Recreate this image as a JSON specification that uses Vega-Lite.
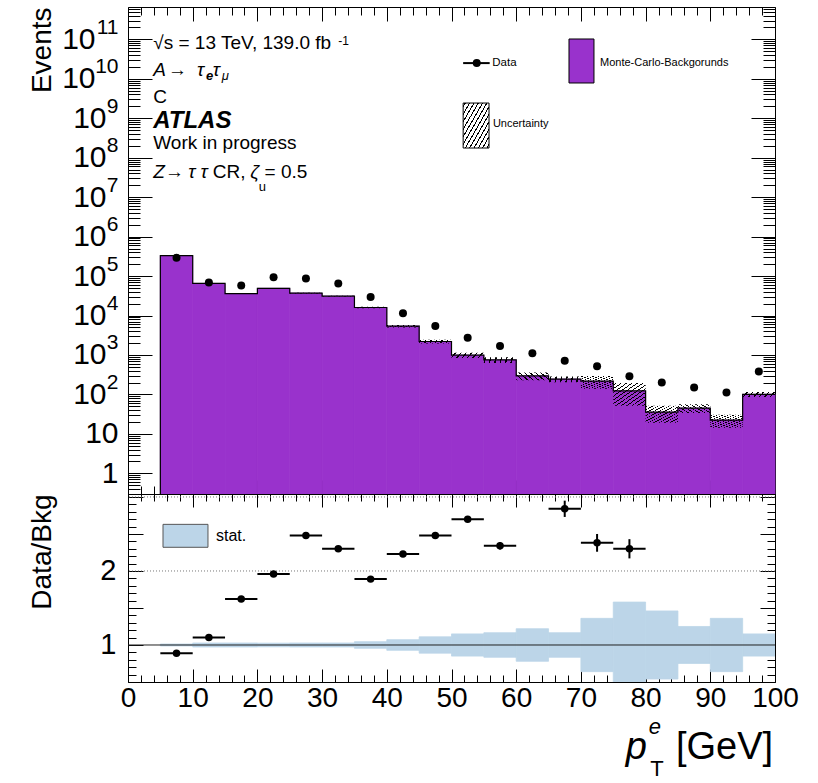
{
"$schema": "https://vega.github.io/schema/vega-lite/v6.json",
"background": "white",
"padding": {"left": 27, "top": 6, "right": 5, "bottom": 0},
"spacing": 0,
"bounds": "flush",
"config": {"font": "Liberation Sans", "view": {"stroke": null}, "axis": {"minExtent": 0, "zindex": 1, "domainColor": "black", "domainWidth": 1, "tickColor": "black", "tickWidth": 1, "grid": false, "labelColor": "black", "titleColor": "black", "labelFont": "Liberation Sans", "titleFont": "Liberation Sans"}},
"datasets": {
"bins": [
{"lo":5,"hi":10,"c":7.5,"mc":330000,"data":290000,"ulo":325700,"uhi":334300,"slo":0.987,"shi":1.013},
{"lo":10,"hi":15,"c":12.5,"mc":65000,"data":69000,"ulo":63245,"uhi":66755,"slo":0.973,"shi":1.027},
{"lo":15,"hi":20,"c":17.5,"mc":36000,"data":58000,"ulo":35028,"uhi":36972,"slo":0.973,"shi":1.027},
{"lo":20,"hi":25,"c":22.5,"mc":49000,"data":94000,"ulo":47775,"uhi":50225,"slo":0.975,"shi":1.025},
{"lo":25,"hi":30,"c":27.5,"mc":37000,"data":87000,"ulo":36001,"uhi":37999,"slo":0.973,"shi":1.027},
{"lo":30,"hi":35,"c":32.5,"mc":31000,"data":65000,"ulo":30163,"uhi":31837,"slo":0.973,"shi":1.027},
{"lo":35,"hi":40,"c":37.5,"mc":16000,"data":29500,"ulo":15280,"uhi":16720,"slo":0.955,"shi":1.045},
{"lo":40,"hi":45,"c":42.5,"mc":5400,"data":11500,"ulo":5011,"uhi":5789,"slo":0.928,"shi":1.072},
{"lo":45,"hi":50,"c":47.5,"mc":2200,"data":5400,"ulo":1958,"uhi":2442,"slo":0.89,"shi":1.11},
{"lo":50,"hi":55,"c":52.5,"mc":990,"data":2750,"ulo":842,"uhi":1139,"slo":0.85,"shi":1.15},
{"lo":55,"hi":60,"c":57.5,"mc":750,"data":1700,"ulo":626,"uhi":875,"slo":0.834,"shi":1.166},
{"lo":60,"hi":65,"c":62.5,"mc":295,"data":1100,"ulo":230,"uhi":360,"slo":0.78,"shi":1.22},
{"lo":65,"hi":70,"c":67.5,"mc":245,"data":710,"ulo":204,"uhi":286,"slo":0.834,"shi":1.166},
{"lo":70,"hi":75,"c":72.5,"mc":217,"data":519,"ulo":139,"uhi":295,"slo":0.64,"shi":1.36},
{"lo":75,"hi":80,"c":77.5,"mc":123,"data":290,"ulo":52,"uhi":194,"slo":0.42,"shi":1.58},
{"lo":80,"hi":85,"c":82.5,"mc":35.6,"data":200,"ulo":19.2,"uhi":52,"slo":0.54,"shi":1.46},
{"lo":85,"hi":90,"c":87.5,"mc":45,"data":150,"ulo":33.8,"uhi":56.3,"slo":0.75,"shi":1.25},
{"lo":90,"hi":95,"c":92.5,"mc":22.4,"data":112,"ulo":14.3,"uhi":30.5,"slo":0.64,"shi":1.36},
{"lo":95,"hi":100,"c":97.5,"mc":101,"data":380,"ulo":85.9,"uhi":116,"slo":0.85,"shi":1.15}
],
"edges": [
{"i":0,"x":5,"y":0.3},{"i":1,"x":5,"y":330000},{"i":2,"x":10,"y":65000},{"i":3,"x":15,"y":36000},{"i":4,"x":20,"y":49000},{"i":5,"x":25,"y":37000},{"i":6,"x":30,"y":31000},{"i":7,"x":35,"y":16000},{"i":8,"x":40,"y":5400},{"i":9,"x":45,"y":2200},{"i":10,"x":50,"y":990},{"i":11,"x":55,"y":750},{"i":12,"x":60,"y":295},{"i":13,"x":65,"y":245},{"i":14,"x":70,"y":217},{"i":15,"x":75,"y":123},{"i":16,"x":80,"y":35.6},{"i":17,"x":85,"y":45},{"i":18,"x":90,"y":22.4},{"i":19,"x":95,"y":101},{"i":20,"x":100,"y":101}
],
"ratio": [
{"c":7.5,"lo":5,"hi":10,"r":0.89,"rlo":0.885,"rhi":0.895},
{"c":12.5,"lo":10,"hi":15,"r":1.10,"rlo":1.09,"rhi":1.11},
{"c":17.5,"lo":15,"hi":20,"r":1.62,"rlo":1.61,"rhi":1.63},
{"c":22.5,"lo":20,"hi":25,"r":1.96,"rlo":1.95,"rhi":1.97},
{"c":27.5,"lo":25,"hi":30,"r":2.48,"rlo":2.465,"rhi":2.495},
{"c":32.5,"lo":30,"hi":35,"r":2.30,"rlo":2.285,"rhi":2.315},
{"c":37.5,"lo":35,"hi":40,"r":1.89,"rlo":1.87,"rhi":1.91},
{"c":42.5,"lo":40,"hi":45,"r":2.23,"rlo":2.205,"rhi":2.255},
{"c":47.5,"lo":45,"hi":50,"r":2.48,"rlo":2.45,"rhi":2.51},
{"c":52.5,"lo":50,"hi":55,"r":2.70,"rlo":2.66,"rhi":2.74},
{"c":57.5,"lo":55,"hi":60,"r":2.34,"rlo":2.29,"rhi":2.39},
{"c":67.5,"lo":65,"hi":70,"r":2.84,"rlo":2.73,"rhi":2.95},
{"c":72.5,"lo":70,"hi":75,"r":2.38,"rlo":2.26,"rhi":2.50},
{"c":77.5,"lo":75,"hi":80,"r":2.30,"rlo":2.17,"rhi":2.43}
]
},
"vconcat": [
{
"width": 647, "height": 487,
"data": {"name": "bins"},
"resolve": {"axis": {"x": "independent", "y": "independent"}},
"layer": [
{"mark": {"type": "rect", "fill": "#9932cc", "stroke": "#9932cc", "strokeWidth": 0.8},
 "encoding": {
  "x": {"field": "lo", "type": "quantitative", "scale": {"domain": [0, 100], "nice": false, "zero": false},
        "axis": {"orient": "bottom", "values": [0,2,4,6,8,10,12,14,16,18,20,22,24,26,28,30,32,34,36,38,40,42,44,46,48,50,52,54,56,58,60,62,64,66,68,70,72,74,76,78,80,82,84,86,88,90,92,94,96,98,100], "labels": false, "title": null, "tickSize": {"condition": {"test": "datum.value % 10 == 0", "value": -14}, "value": -8}}},
  "x2": {"field": "hi"},
  "y": {"field": "mc", "type": "quantitative", "scale": {"type": "log", "domain": [0.3, 6.6e11], "nice": false},
        "axis": {"orient": "left", "values": [1,10,100,1000,1e4,1e5,1e6,1e7,1e8,1e9,1e10,1e11], "ticks": false, "domain": false,
                 "labelExpr": "datum.value < 5 ? '1' : '10'",
                 "labelOverlap": false, "labelFlush": false, "labelFontSize": 30,
                 "labelPadding": {"condition": [{"test": "datum.value > 5e9", "value": 33}, {"test": "datum.value > 50", "value": 22}], "value": 10},
                 "title": "Events", "titleFontSize": 28, "titleFontWeight": "normal", "titleAnchor": "end", "titleAngle": -90, "titleAlign": "right", "titleBaseline": "alphabetic", "titleX": -78, "titleY": 0}},
  "y2": {"datum": 0.3}
 }},
{"mark": {"type": "rect", "fill": {"gradient": "linear", "x1": 0, "y1": 0, "x2": 1, "y2": 1, "stops": [
 {"offset":0,"color":"rgba(0,0,0,0)"},
 {"offset":0.0307,"color":"rgba(0,0,0,0)"},{"offset":0.0307,"color":"#000"},{"offset":0.0527,"color":"#000"},{"offset":0.0527,"color":"rgba(0,0,0,0)"},
 {"offset":0.114,"color":"rgba(0,0,0,0)"},{"offset":0.114,"color":"#000"},{"offset":0.136,"color":"#000"},{"offset":0.136,"color":"rgba(0,0,0,0)"},
 {"offset":0.1973,"color":"rgba(0,0,0,0)"},{"offset":0.1973,"color":"#000"},{"offset":0.2193,"color":"#000"},{"offset":0.2193,"color":"rgba(0,0,0,0)"},
 {"offset":0.2807,"color":"rgba(0,0,0,0)"},{"offset":0.2807,"color":"#000"},{"offset":0.3027,"color":"#000"},{"offset":0.3027,"color":"rgba(0,0,0,0)"},
 {"offset":0.364,"color":"rgba(0,0,0,0)"},{"offset":0.364,"color":"#000"},{"offset":0.386,"color":"#000"},{"offset":0.386,"color":"rgba(0,0,0,0)"},
 {"offset":0.4473,"color":"rgba(0,0,0,0)"},{"offset":0.4473,"color":"#000"},{"offset":0.4693,"color":"#000"},{"offset":0.4693,"color":"rgba(0,0,0,0)"},
 {"offset":0.5307,"color":"rgba(0,0,0,0)"},{"offset":0.5307,"color":"#000"},{"offset":0.5527,"color":"#000"},{"offset":0.5527,"color":"rgba(0,0,0,0)"},
 {"offset":0.614,"color":"rgba(0,0,0,0)"},{"offset":0.614,"color":"#000"},{"offset":0.636,"color":"#000"},{"offset":0.636,"color":"rgba(0,0,0,0)"},
 {"offset":0.6973,"color":"rgba(0,0,0,0)"},{"offset":0.6973,"color":"#000"},{"offset":0.7193,"color":"#000"},{"offset":0.7193,"color":"rgba(0,0,0,0)"},
 {"offset":0.7807,"color":"rgba(0,0,0,0)"},{"offset":0.7807,"color":"#000"},{"offset":0.8027,"color":"#000"},{"offset":0.8027,"color":"rgba(0,0,0,0)"},
 {"offset":0.864,"color":"rgba(0,0,0,0)"},{"offset":0.864,"color":"#000"},{"offset":0.886,"color":"#000"},{"offset":0.886,"color":"rgba(0,0,0,0)"},
 {"offset":0.9473,"color":"rgba(0,0,0,0)"},{"offset":0.9473,"color":"#000"},{"offset":0.9693,"color":"#000"},{"offset":0.9693,"color":"rgba(0,0,0,0)"},
 {"offset":1,"color":"rgba(0,0,0,0)"}]}},
 "encoding": {"x": {"field": "lo", "type": "quantitative", "axis": null}, "x2": {"field": "hi"},
  "y": {"field": "ulo", "type": "quantitative", "axis": {"orient": "left", "values": [0.3,0.4,0.5,0.6,0.7,0.8,0.9,1,2,3,4,5,6,7,8,9,10,20,30,40,50,60,70,80,90,100,200,300,400,500,600,700,800,900,1000,2000,3000,4000,5000,6000,7000,8000,9000,1e4,2e4,3e4,4e4,5e4,6e4,7e4,8e4,9e4,1e5,2e5,3e5,4e5,5e5,6e5,7e5,8e5,9e5,1e6,2e6,3e6,4e6,5e6,6e6,7e6,8e6,9e6,1e7,2e7,3e7,4e7,5e7,6e7,7e7,8e7,9e7,1e8,2e8,3e8,4e8,5e8,6e8,7e8,8e8,9e8,1e9,2e9,3e9,4e9,5e9,6e9,7e9,8e9,9e9,1e10,2e10,3e10,4e10,5e10,6e10,7e10,8e10,9e10,1e11,2e11,3e11,4e11,5e11,6e11], "labels": false, "title": null, "tickSize": {"condition": {"test": "abs(log(datum.value)/LN10 - round(log(datum.value)/LN10)) < 0.001", "value": -24}, "value": -12}}},
  "y2": {"field": "uhi"}}},
{"data": {"name": "edges"}, "mark": {"type": "line", "interpolate": "step-after", "stroke": "black", "strokeWidth": 1.2},
 "encoding": {"x": {"field": "x", "type": "quantitative", "axis": null},
  "y": {"field": "y", "type": "quantitative", "axis": {"orient": "left", "values": [100,1000,1e4,1e5,1e6,1e7,1e8,1e9,1e10,1e11], "ticks": false, "domain": false, "labelExpr": "'' + round(log(datum.value)/LN10)", "labelOverlap": false, "labelFlush": false, "labelFontSize": 21, "labelPadding": 10, "labelOffset": -12, "title": null}},
  "order": {"field": "i"}}},
{"mark": {"type": "point", "filled": true, "shape": "circle", "size": 64, "color": "black", "opacity": 1},
 "encoding": {
  "x": {"field": "c", "type": "quantitative", "axis": {"orient": "top", "values": [0,2,4,6,8,10,12,14,16,18,20,22,24,26,28,30,32,34,36,38,40,42,44,46,48,50,52,54,56,58,60,62,64,66,68,70,72,74,76,78,80,82,84,86,88,90,92,94,96,98,100], "labels": false, "title": null, "tickSize": {"condition": {"test": "datum.value % 10 == 0", "value": -14}, "value": -8}}},
  "y": {"field": "data", "type": "quantitative", "axis": {"orient": "right", "values": [0.3,0.4,0.5,0.6,0.7,0.8,0.9,1,2,3,4,5,6,7,8,9,10,20,30,40,50,60,70,80,90,100,200,300,400,500,600,700,800,900,1000,2000,3000,4000,5000,6000,7000,8000,9000,1e4,2e4,3e4,4e4,5e4,6e4,7e4,8e4,9e4,1e5,2e5,3e5,4e5,5e5,6e5,7e5,8e5,9e5,1e6,2e6,3e6,4e6,5e6,6e6,7e6,8e6,9e6,1e7,2e7,3e7,4e7,5e7,6e7,7e7,8e7,9e7,1e8,2e8,3e8,4e8,5e8,6e8,7e8,8e8,9e8,1e9,2e9,3e9,4e9,5e9,6e9,7e9,8e9,9e9,1e10,2e10,3e10,4e10,5e10,6e10,7e10,8e10,9e10,1e11,2e11,3e11,4e11,5e11,6e11], "labels": false, "title": null, "tickSize": {"condition": {"test": "abs(log(datum.value)/LN10 - round(log(datum.value)/LN10)) < 0.001", "value": -24}, "value": -12}}}
 }},
{"data": {"values": [{}]}, "mark": {"type": "rule", "stroke": "black", "strokeWidth": 2},
 "encoding": {"x": {"datum": 51.8, "type": "quantitative", "axis": null}, "x2": {"datum": 55.9}, "y": {"datum": 2.5e10, "type": "quantitative", "axis": null}}},
{"data": {"values": [{}]}, "mark": {"type": "point", "filled": true, "shape": "circle", "size": 64, "color": "black", "opacity": 1},
 "encoding": {"x": {"datum": 53.9, "type": "quantitative", "axis": null}, "y": {"datum": 2.5e10, "type": "quantitative", "axis": null}}},
{"data": {"values": [{}]}, "mark": {"type": "text", "text": "Data", "align": "left", "baseline": "middle", "fontSize": 11.5},
 "encoding": {"x": {"datum": 56.3, "type": "quantitative", "axis": null}, "y": {"datum": 2.5e10, "type": "quantitative", "axis": null}}},
{"data": {"values": [{}]}, "mark": {"type": "rect", "fill": "#9932cc", "stroke": "black", "strokeWidth": 1},
 "encoding": {"x": {"datum": 68.16, "type": "quantitative", "axis": null}, "x2": {"datum": 72.02}, "y": {"datum": 7.83e9, "type": "quantitative", "axis": null}, "y2": {"datum": 1.02e11}}},
{"data": {"values": [{}]}, "mark": {"type": "text", "text": "Monte-Carlo-Backgorunds", "align": "left", "baseline": "middle", "fontSize": 11},
 "encoding": {"x": {"datum": 72.95, "type": "quantitative", "axis": null}, "y": {"datum": 2.5e10, "type": "quantitative", "axis": null}}},
{"data": {"values": [{}]}, "mark": {"type": "rect", "stroke": "black", "strokeWidth": 1, "fill": {"gradient": "linear", "x1": 0, "y1": 0, "x2": 1, "y2": 1, "stops": [
 {"offset":0,"color":"rgba(0,0,0,0)"},
 {"offset":0.0307,"color":"rgba(0,0,0,0)"},{"offset":0.0307,"color":"#000"},{"offset":0.0527,"color":"#000"},{"offset":0.0527,"color":"rgba(0,0,0,0)"},
 {"offset":0.114,"color":"rgba(0,0,0,0)"},{"offset":0.114,"color":"#000"},{"offset":0.136,"color":"#000"},{"offset":0.136,"color":"rgba(0,0,0,0)"},
 {"offset":0.1973,"color":"rgba(0,0,0,0)"},{"offset":0.1973,"color":"#000"},{"offset":0.2193,"color":"#000"},{"offset":0.2193,"color":"rgba(0,0,0,0)"},
 {"offset":0.2807,"color":"rgba(0,0,0,0)"},{"offset":0.2807,"color":"#000"},{"offset":0.3027,"color":"#000"},{"offset":0.3027,"color":"rgba(0,0,0,0)"},
 {"offset":0.364,"color":"rgba(0,0,0,0)"},{"offset":0.364,"color":"#000"},{"offset":0.386,"color":"#000"},{"offset":0.386,"color":"rgba(0,0,0,0)"},
 {"offset":0.4473,"color":"rgba(0,0,0,0)"},{"offset":0.4473,"color":"#000"},{"offset":0.4693,"color":"#000"},{"offset":0.4693,"color":"rgba(0,0,0,0)"},
 {"offset":0.5307,"color":"rgba(0,0,0,0)"},{"offset":0.5307,"color":"#000"},{"offset":0.5527,"color":"#000"},{"offset":0.5527,"color":"rgba(0,0,0,0)"},
 {"offset":0.614,"color":"rgba(0,0,0,0)"},{"offset":0.614,"color":"#000"},{"offset":0.636,"color":"#000"},{"offset":0.636,"color":"rgba(0,0,0,0)"},
 {"offset":0.6973,"color":"rgba(0,0,0,0)"},{"offset":0.6973,"color":"#000"},{"offset":0.7193,"color":"#000"},{"offset":0.7193,"color":"rgba(0,0,0,0)"},
 {"offset":0.7807,"color":"rgba(0,0,0,0)"},{"offset":0.7807,"color":"#000"},{"offset":0.8027,"color":"#000"},{"offset":0.8027,"color":"rgba(0,0,0,0)"},
 {"offset":0.864,"color":"rgba(0,0,0,0)"},{"offset":0.864,"color":"#000"},{"offset":0.886,"color":"#000"},{"offset":0.886,"color":"rgba(0,0,0,0)"},
 {"offset":0.9473,"color":"rgba(0,0,0,0)"},{"offset":0.9473,"color":"#000"},{"offset":0.9693,"color":"#000"},{"offset":0.9693,"color":"rgba(0,0,0,0)"},
 {"offset":1,"color":"rgba(0,0,0,0)"}]}},
 "encoding": {"x": {"datum": 51.8, "type": "quantitative", "axis": null}, "x2": {"datum": 55.8}, "y": {"datum": 1.76e8, "type": "quantitative", "axis": null}, "y2": {"datum": 2.43e9}}},
{"data": {"values": [{}]}, "mark": {"type": "text", "text": "Uncertainty", "align": "left", "baseline": "middle", "fontSize": 11},
 "encoding": {"x": {"datum": 56.4, "type": "quantitative", "axis": null}, "y": {"datum": 7.1e8, "type": "quantitative", "axis": null}}},
{"data": {"values": [{}]}, "mark": {"type": "text", "text": "√s = 13 TeV, 139.0 fb", "align": "left", "baseline": "alphabetic", "fontSize": 19},
 "encoding": {"x": {"datum": 3.9, "type": "quantitative", "axis": null}, "y": {"datum": 5.69e10, "type": "quantitative", "axis": null}}},
{"data": {"values": [{}]}, "mark": {"type": "text", "text": "-1", "align": "left", "baseline": "alphabetic", "fontSize": 12},
 "encoding": {"x": {"datum": 32.5, "type": "quantitative", "axis": null}, "y": {"datum": 7e10, "type": "quantitative", "axis": null}}},
{"data": {"values": [{}]}, "mark": {"type": "text", "text": "A", "align": "left", "baseline": "alphabetic", "fontSize": 19, "fontStyle": "italic"},
 "encoding": {"x": {"datum": 3.9, "type": "quantitative", "axis": null}, "y": {"datum": 1.18e10, "type": "quantitative", "axis": null}}},
{"data": {"values": [{}]}, "mark": {"type": "text", "text": "→", "align": "left", "baseline": "alphabetic", "fontSize": 19},
 "encoding": {"x": {"datum": 6.2, "type": "quantitative", "axis": null}, "y": {"datum": 1.18e10, "type": "quantitative", "axis": null}}},
{"data": {"values": [{}]}, "mark": {"type": "text", "text": "τ", "align": "left", "baseline": "alphabetic", "fontSize": 19, "fontStyle": "italic"},
 "encoding": {"x": {"datum": 10.66, "type": "quantitative", "axis": null}, "y": {"datum": 1.18e10, "type": "quantitative", "axis": null}}},
{"data": {"values": [{}]}, "mark": {"type": "text", "text": "e", "align": "left", "baseline": "alphabetic", "fontSize": 13, "fontStyle": "italic", "fontWeight": "bold"},
 "encoding": {"x": {"datum": 12.06, "type": "quantitative", "axis": null}, "y": {"datum": 9.3e9, "type": "quantitative", "axis": null}}},
{"data": {"values": [{}]}, "mark": {"type": "text", "text": "τ", "align": "left", "baseline": "alphabetic", "fontSize": 19, "fontStyle": "italic"},
 "encoding": {"x": {"datum": 13.1, "type": "quantitative", "axis": null}, "y": {"datum": 1.18e10, "type": "quantitative", "axis": null}}},
{"data": {"values": [{}]}, "mark": {"type": "text", "text": "μ", "align": "left", "baseline": "alphabetic", "fontSize": 13, "fontStyle": "italic"},
 "encoding": {"x": {"datum": 14.5, "type": "quantitative", "axis": null}, "y": {"datum": 9.3e9, "type": "quantitative", "axis": null}}},
{"data": {"values": [{}]}, "mark": {"type": "text", "text": "C", "align": "left", "baseline": "alphabetic", "fontSize": 19},
 "encoding": {"x": {"datum": 3.9, "type": "quantitative", "axis": null}, "y": {"datum": 2.43e9, "type": "quantitative", "axis": null}}},
{"data": {"values": [{}]}, "mark": {"type": "text", "text": "ATLAS", "align": "left", "baseline": "alphabetic", "fontSize": 24, "fontStyle": "italic", "fontWeight": "bold"},
 "encoding": {"x": {"datum": 3.9, "type": "quantitative", "axis": null}, "y": {"datum": 5.6e8, "type": "quantitative", "axis": null}}},
{"data": {"values": [{}]}, "mark": {"type": "text", "text": "Work in progress", "align": "left", "baseline": "alphabetic", "fontSize": 19},
 "encoding": {"x": {"datum": 3.9, "type": "quantitative", "axis": null}, "y": {"datum": 1.7e8, "type": "quantitative", "axis": null}}},
{"data": {"values": [{}]}, "mark": {"type": "text", "text": "Z", "align": "left", "baseline": "alphabetic", "fontSize": 19, "fontStyle": "italic"},
 "encoding": {"x": {"datum": 3.9, "type": "quantitative", "axis": null}, "y": {"datum": 3.06e7, "type": "quantitative", "axis": null}}},
{"data": {"values": [{}]}, "mark": {"type": "text", "text": "→", "align": "left", "baseline": "alphabetic", "fontSize": 19},
 "encoding": {"x": {"datum": 5.7, "type": "quantitative", "axis": null}, "y": {"datum": 3.06e7, "type": "quantitative", "axis": null}}},
{"data": {"values": [{}]}, "mark": {"type": "text", "text": "τ τ", "align": "left", "baseline": "alphabetic", "fontSize": 19, "fontStyle": "italic"},
 "encoding": {"x": {"datum": 9.3, "type": "quantitative", "axis": null}, "y": {"datum": 3.06e7, "type": "quantitative", "axis": null}}},
{"data": {"values": [{}]}, "mark": {"type": "text", "text": "CR,", "align": "left", "baseline": "alphabetic", "fontSize": 19},
 "encoding": {"x": {"datum": 13.1, "type": "quantitative", "axis": null}, "y": {"datum": 3.06e7, "type": "quantitative", "axis": null}}},
{"data": {"values": [{}]}, "mark": {"type": "text", "text": "ζ", "align": "left", "baseline": "alphabetic", "fontSize": 19, "fontStyle": "italic"},
 "encoding": {"x": {"datum": 18.9, "type": "quantitative", "axis": null}, "y": {"datum": 3.06e7, "type": "quantitative", "axis": null}}},
{"data": {"values": [{}]}, "mark": {"type": "text", "text": "u", "align": "left", "baseline": "alphabetic", "fontSize": 13},
 "encoding": {"x": {"datum": 20.2, "type": "quantitative", "axis": null}, "y": {"datum": 1.4e7, "type": "quantitative", "axis": null}}},
{"data": {"values": [{}]}, "mark": {"type": "text", "text": "= 0.5", "align": "left", "baseline": "alphabetic", "fontSize": 19},
 "encoding": {"x": {"datum": 21.1, "type": "quantitative", "axis": null}, "y": {"datum": 3.06e7, "type": "quantitative", "axis": null}}}
]
},
{
"width": 647, "height": 188,
"data": {"name": "bins"},
"resolve": {"axis": {"x": "independent", "y": "independent"}},
"layer": [
{"mark": {"type": "rect", "fill": "#bcd5e8", "stroke": "#bcd5e8", "strokeWidth": 0.8, "clip": true},
 "encoding": {
  "x": {"field": "lo", "type": "quantitative", "scale": {"domain": [0, 100], "nice": false, "zero": false},
        "axis": {"orient": "bottom", "values": [0,10,20,30,40,50,60,70,80,90,100], "ticks": false, "domain": false, "labelOverlap": false, "labelFlush": false, "labelFontSize": 28, "labelPadding": 2, "title": null}},
  "x2": {"field": "hi"},
  "y": {"field": "slo", "type": "quantitative", "scale": {"domain": [0.5, 3.04], "nice": false, "zero": false},
        "axis": {"orient": "left", "values": [1, 2], "ticks": false, "domain": false, "labelOverlap": false, "labelFlush": false, "labelFontSize": 29, "labelPadding": 12,
                 "title": "Data/Bkg", "titleFontSize": 28, "titleFontWeight": "normal", "titleAnchor": "end", "titleAngle": -90, "titleAlign": "right", "titleBaseline": "alphabetic", "titleX": -78, "titleY": 0}},
  "y2": {"field": "shi"}
 }},
{"data": {"values": [{"v": 2}, {"v": 3}]}, "mark": {"type": "rule", "stroke": "#777777", "strokeDash": [1, 2], "strokeWidth": 1},
 "encoding": {"y": {"field": "v", "type": "quantitative", "axis": null}}},
{"data": {"values": [{"v": 1}]}, "mark": {"type": "rule", "stroke": "#222222", "strokeWidth": 1},
 "encoding": {"y": {"field": "v", "type": "quantitative", "axis": null}}},
{"data": {"name": "ratio"}, "mark": {"type": "rule", "stroke": "black", "strokeWidth": 2, "clip": true},
 "encoding": {
  "x": {"field": "lo", "type": "quantitative", "axis": {"orient": "bottom", "values": [0,2,4,6,8,10,12,14,16,18,20,22,24,26,28,30,32,34,36,38,40,42,44,46,48,50,52,54,56,58,60,62,64,66,68,70,72,74,76,78,80,82,84,86,88,90,92,94,96,98,100], "labels": false, "title": null, "tickSize": {"condition": {"test": "datum.value % 10 == 0", "value": -13}, "value": -7}}},
  "x2": {"field": "hi"},
  "y": {"field": "r", "type": "quantitative", "axis": {"orient": "left", "values": [0.5,0.6,0.7,0.8,0.9,1,1.1,1.2,1.3,1.4,1.5,1.6,1.7,1.8,1.9,2,2.1,2.2,2.3,2.4,2.5,2.6,2.7,2.8,2.9,3], "labels": false, "title": null, "tickSize": {"condition": {"test": "abs(datum.value*2 - round(datum.value*2)) < 0.000001", "value": -15}, "value": -8}}}}},
{"data": {"name": "ratio"}, "mark": {"type": "rule", "stroke": "black", "strokeWidth": 2, "clip": true},
 "encoding": {"x": {"field": "c", "type": "quantitative", "axis": null}, "y": {"field": "rlo", "type": "quantitative", "axis": null}, "y2": {"field": "rhi"}}},
{"data": {"name": "ratio"}, "mark": {"type": "point", "filled": true, "shape": "circle", "size": 56, "color": "black", "opacity": 1},
 "encoding": {
  "x": {"field": "c", "type": "quantitative", "axis": {"orient": "top", "values": [0,2,4,6,8,10,12,14,16,18,20,22,24,26,28,30,32,34,36,38,40,42,44,46,48,50,52,54,56,58,60,62,64,66,68,70,72,74,76,78,80,82,84,86,88,90,92,94,96,98,100], "labels": false, "title": null, "tickSize": {"condition": {"test": "datum.value % 10 == 0", "value": -13}, "value": -7}}},
  "y": {"field": "r", "type": "quantitative", "axis": {"orient": "right", "values": [0.5,0.6,0.7,0.8,0.9,1,1.1,1.2,1.3,1.4,1.5,1.6,1.7,1.8,1.9,2,2.1,2.2,2.3,2.4,2.5,2.6,2.7,2.8,2.9,3], "labels": false, "title": null, "tickSize": {"condition": {"test": "abs(datum.value*2 - round(datum.value*2)) < 0.000001", "value": -15}, "value": -8}}}
 }},
{"data": {"values": [{}]}, "mark": {"type": "rect", "fill": "#bcd5e8", "stroke": "#555555", "strokeWidth": 1},
 "encoding": {"x": {"datum": 5.41, "type": "quantitative", "axis": null}, "x2": {"datum": 12.36}, "y": {"datum": 2.32, "type": "quantitative", "axis": null}, "y2": {"datum": 2.63}}},
{"data": {"values": [{}]}, "mark": {"type": "text", "text": "stat.", "align": "left", "baseline": "middle", "fontSize": 16},
 "encoding": {"x": {"datum": 13.6, "type": "quantitative", "axis": null}, "y": {"datum": 2.47, "type": "quantitative", "axis": null}}},
{"data": {"values": [{}]}, "mark": {"type": "text", "text": "[GeV]", "align": "right", "baseline": "alphabetic", "fontSize": 38},
 "encoding": {"x": {"datum": 99.7, "type": "quantitative", "axis": null}, "y": {"datum": -0.54, "type": "quantitative", "axis": null}}},
{"data": {"values": [{}]}, "mark": {"type": "text", "text": "p", "align": "right", "baseline": "alphabetic", "fontSize": 38, "fontStyle": "italic"},
 "encoding": {"x": {"datum": 80.2, "type": "quantitative", "axis": null}, "y": {"datum": -0.54, "type": "quantitative", "axis": null}}},
{"data": {"values": [{}]}, "mark": {"type": "text", "text": "e", "align": "left", "baseline": "alphabetic", "fontSize": 22, "fontStyle": "italic"},
 "encoding": {"x": {"datum": 80.5, "type": "quantitative", "axis": null}, "y": {"datum": -0.2, "type": "quantitative", "axis": null}}},
{"data": {"values": [{}]}, "mark": {"type": "text", "text": "T", "align": "left", "baseline": "alphabetic", "fontSize": 22},
 "encoding": {"x": {"datum": 80.7, "type": "quantitative", "axis": null}, "y": {"datum": -0.77, "type": "quantitative", "axis": null}}}
]
}
]
}
